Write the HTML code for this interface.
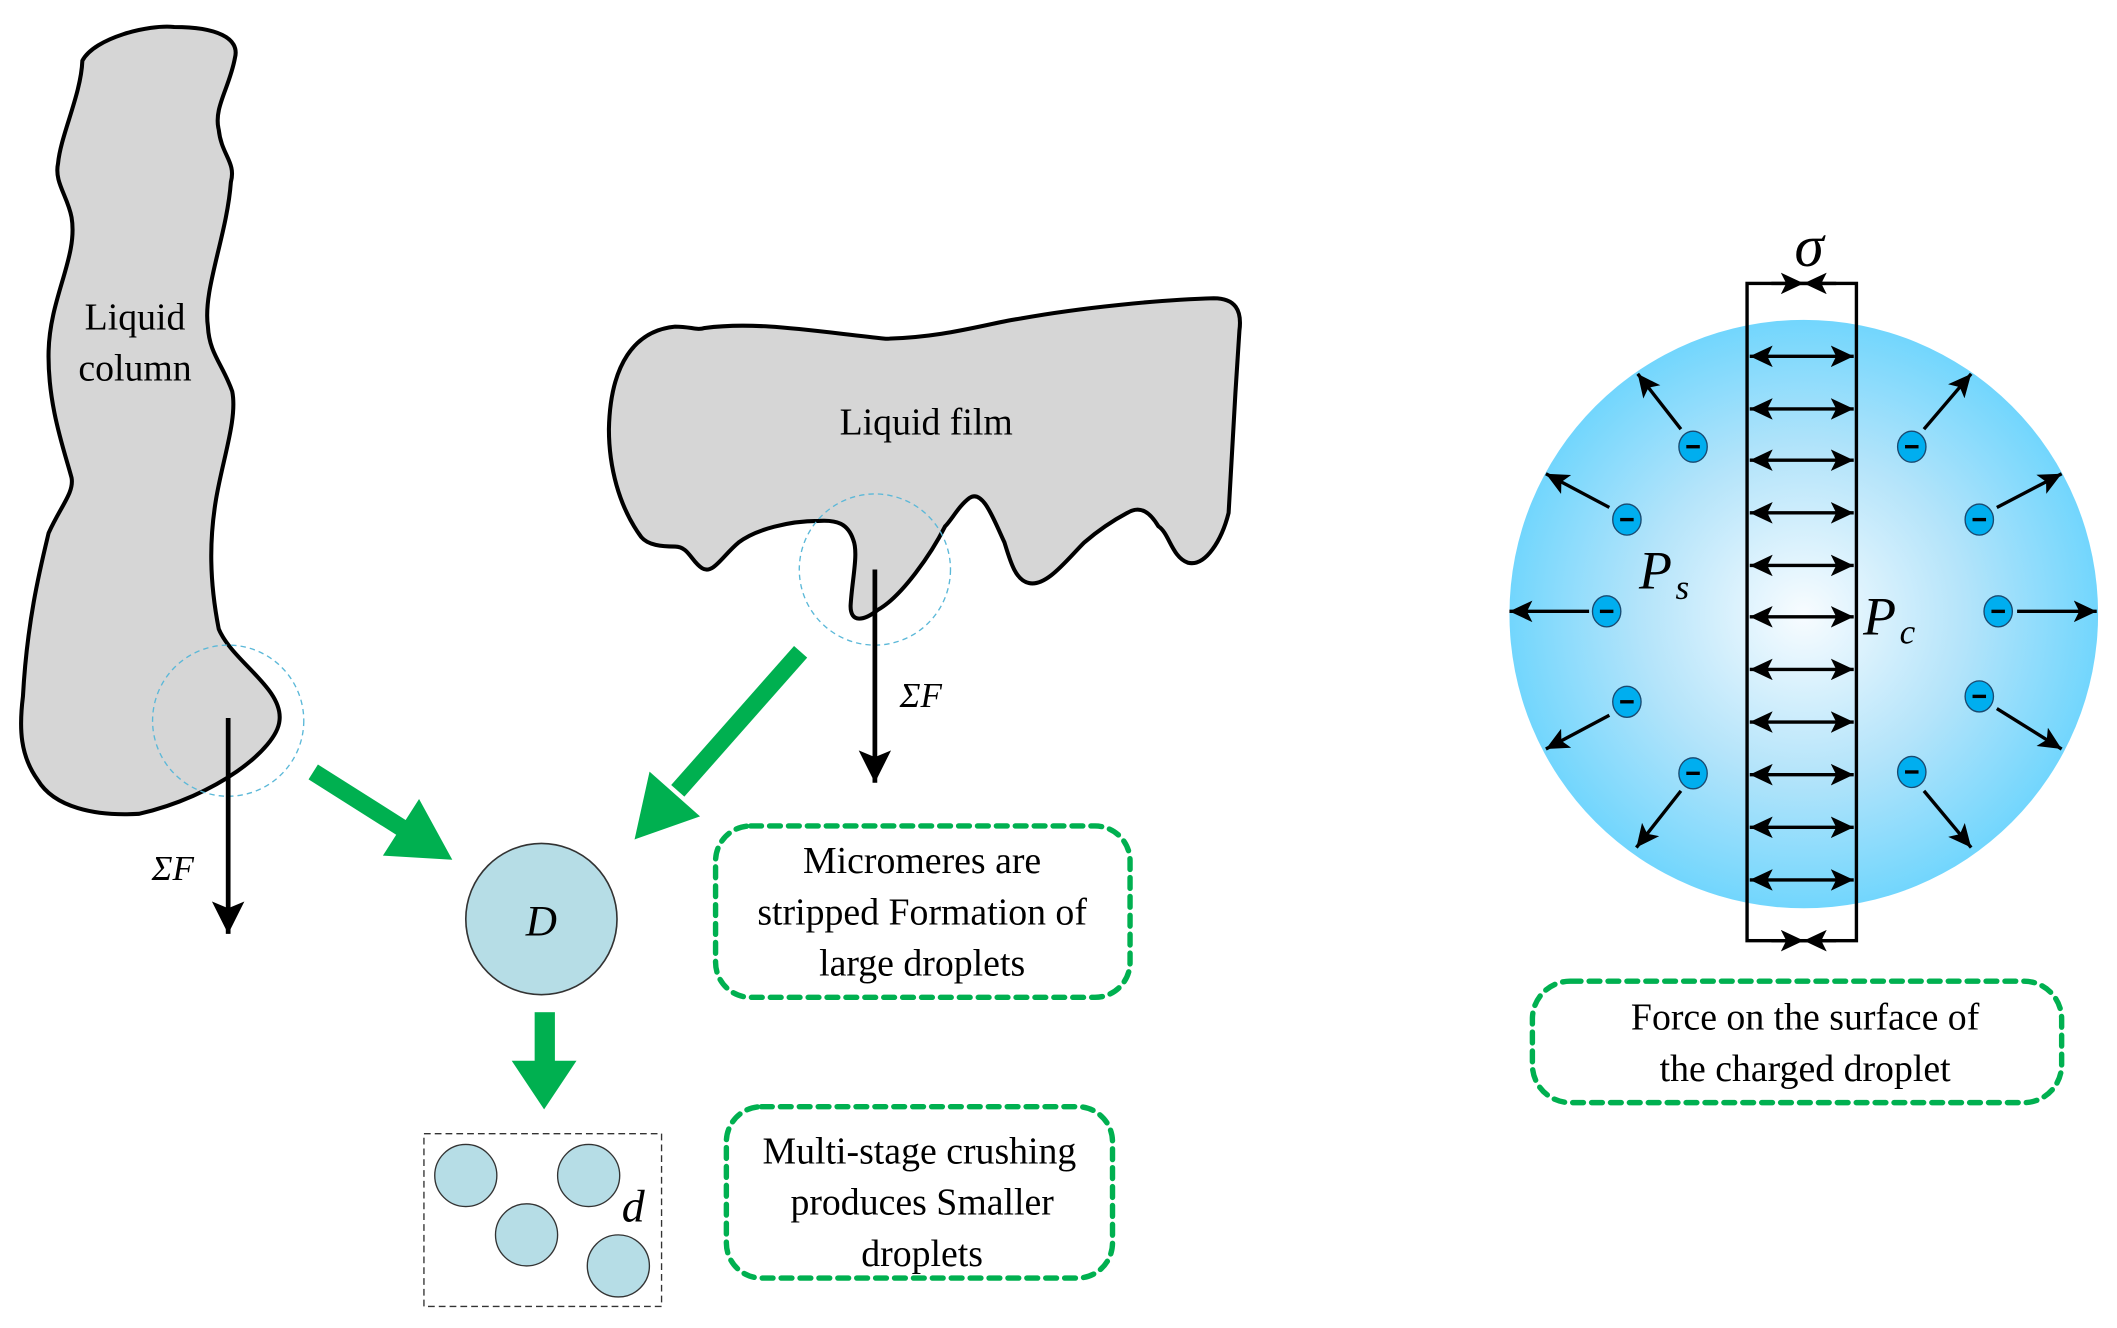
<!DOCTYPE html>
<html><head><meta charset="utf-8"><style>
html,body{margin:0;padding:0;background:#fff;}
svg{display:block;}
svg text{font-family:"Liberation Serif","Times New Roman",serif;fill:#000;}
</style></head><body>
<svg width="2117" height="1328" viewBox="0 0 1568 984" preserveAspectRatio="none" xmlns="http://www.w3.org/2000/svg" font-family="Liberation Serif, serif">
<defs>
<marker id="ah" markerUnits="userSpaceOnUse" markerWidth="26" markerHeight="24" refX="24" refY="12" orient="auto">
<path d="M0,0 L24,12 L0,24 L5,12 Z" fill="#000"/></marker>
<marker id="sh" markerUnits="userSpaceOnUse" markerWidth="18" markerHeight="16" refX="17" refY="8" orient="auto-start-reverse">
<path d="M0,0 L17,8 L0,16 L4,8 Z" fill="#000"/></marker>
<radialGradient id="rg" cx="0.5" cy="0.5" r="0.5">
<stop offset="0" stop-color="#f8fcff"/><stop offset="0.55" stop-color="#b4e4fa"/><stop offset="1" stop-color="#72d6fd"/></radialGradient>
</defs>

<path d="M61,45 C70,28 110,18 129,20 C160,20 178,28 174,43 C170,65 158,80 162,96 C164,115 175,120 171,135 C168,175 150,215 154,242 C155,262 165,270 172,290 C176,310 165,340 160,370 C155,400 155,430 162,466 C172,490 210,510 207,534 C205,555 160,590 103,603 C70,605 40,598 28,578 C15,560 14,540 17,516 C20,460 30,420 36,395 C45,375 55,365 53,354 C48,335 35,300 36,260 C37,220 58,190 53,161 C50,145 40,135 43,121 C45,100 60,70 61,45 Z" fill="#d6d6d6" stroke="#000" stroke-width="3"/>
<text x="100" y="244" font-size="28" text-anchor="middle" font-family="Liberation Serif, serif">Liquid</text>
<text x="100" y="282" font-size="28" text-anchor="middle" font-family="Liberation Serif, serif">column</text>
<circle cx="169" cy="534" r="56" fill="none" stroke="#5bb8d8" stroke-width="1" stroke-dasharray="4,3"/>
<line x1="169" y1="532" x2="169" y2="692" stroke="#000" stroke-width="3.5" marker-end="url(#ah)"/>
<text x="128" y="652" font-size="26" font-style="italic" text-anchor="middle" font-family="Liberation Serif, serif">ΣF</text>

<path d="M451,318 C452,270 470,245 500,242 C512,242 516,245 522,243 C560,238 600,245 656,251 C700,250 730,240 756,236 C800,228 860,222 899,221 C915,221 920,230 918,245 C915,290 912,340 910,380 C905,400 893,420 880,417 C868,413 866,395 858,390 C852,380 845,374 835,380 C820,388 810,396 803,402 C790,415 775,435 762,432 C752,430 748,415 744,402 C736,385 728,362 718,369 C710,375 705,385 700,390 C690,410 668,442 650,452 C640,460 630,462 630,449 C631,430 636,410 632,400 C628,388 620,385 606,386 C585,386 560,392 547,402 C535,412 528,426 520,421 C512,416 510,405 500,405 C490,405 480,404 475,398 C458,375 451,345 451,318 Z" fill="#d6d6d6" stroke="#000" stroke-width="3"/>
<text x="686" y="322" font-size="28" text-anchor="middle" font-family="Liberation Serif, serif">Liquid film</text>
<circle cx="648" cy="422" r="56" fill="none" stroke="#5bb8d8" stroke-width="1" stroke-dasharray="4,3"/>
<line x1="648" y1="422" x2="648" y2="580" stroke="#000" stroke-width="3.5" marker-end="url(#ah)"/>
<text x="682" y="524" font-size="26" font-style="italic" text-anchor="middle" font-family="Liberation Serif, serif">ΣF</text>

<g fill="#00b050" stroke="none">
<line x1="232" y1="572" x2="300" y2="615" stroke="#00b050" stroke-width="13"/>
<polygon points="335,637 283.6,634 310.4,592"/>
<line x1="593" y1="483" x2="502" y2="586" stroke="#00b050" stroke-width="13"/>
<polygon points="470,622 518.5,604.9 481.1,571.7"/>
<rect x="396" y="750" width="15" height="38"/>
<polygon points="403,822 379,786 427,786"/>
</g>

<circle cx="401" cy="681" r="56" fill="#b6dde6" stroke="#333" stroke-width="1.2"/>
<text x="401" y="693" font-size="32" font-style="italic" text-anchor="middle" font-family="Liberation Serif, serif">D</text>

<rect x="314" y="840" width="176" height="128" fill="none" stroke="#333" stroke-width="1" stroke-dasharray="5,3"/>
<g fill="#b6dde6" stroke="#333" stroke-width="1">
<ellipse cx="345" cy="871" rx="23" ry="23"/>
<ellipse cx="436" cy="871" rx="23" ry="23"/>
<ellipse cx="390" cy="915" rx="23" ry="23"/>
<ellipse cx="458" cy="938" rx="23" ry="23"/>
</g>
<text x="469" y="905" font-size="34" font-style="italic" text-anchor="middle" font-family="Liberation Serif, serif">d</text>

<g fill="none" stroke="#00b050" stroke-width="4" stroke-dasharray="8,6" stroke-linecap="round">
<rect x="530" y="612" width="307" height="127" rx="26"/>
<rect x="538" y="820" width="286" height="127" rx="26"/>
<rect x="1135" y="727" width="392" height="90" rx="28"/>
</g>
<g font-size="28" text-anchor="middle" font-family="Liberation Serif, serif">
<text x="683" y="647" font-family="Liberation Serif, serif">Micromeres are</text>
<text x="683" y="685" font-family="Liberation Serif, serif">stripped Formation of</text>
<text x="683" y="723" font-family="Liberation Serif, serif">large droplets</text>
<text x="681" y="862" font-family="Liberation Serif, serif">Multi-stage crushing</text>
<text x="683" y="900" font-family="Liberation Serif, serif">produces Smaller</text>
<text x="683" y="938" font-family="Liberation Serif, serif">droplets</text>
<text x="1337" y="763" font-family="Liberation Serif, serif">Force on the surface of</text>
<text x="1337" y="801" font-family="Liberation Serif, serif">the charged droplet</text>
</g>

<circle cx="1336" cy="455" r="218" fill="url(#rg)"/>
<rect x="1294" y="210" width="81" height="487" fill="none" stroke="#000" stroke-width="2.5"/>
<g stroke="#000" stroke-width="2.5">
<line x1="1296" y1="264" x2="1373" y2="264" marker-start="url(#sh)" marker-end="url(#sh)"/>
<line x1="1296" y1="303" x2="1373" y2="303" marker-start="url(#sh)" marker-end="url(#sh)"/>
<line x1="1296" y1="341" x2="1373" y2="341" marker-start="url(#sh)" marker-end="url(#sh)"/>
<line x1="1296" y1="380" x2="1373" y2="380" marker-start="url(#sh)" marker-end="url(#sh)"/>
<line x1="1296" y1="419" x2="1373" y2="419" marker-start="url(#sh)" marker-end="url(#sh)"/>
<line x1="1296" y1="457" x2="1373" y2="457" marker-start="url(#sh)" marker-end="url(#sh)"/>
<line x1="1296" y1="496" x2="1373" y2="496" marker-start="url(#sh)" marker-end="url(#sh)"/>
<line x1="1296" y1="535" x2="1373" y2="535" marker-start="url(#sh)" marker-end="url(#sh)"/>
<line x1="1296" y1="574" x2="1373" y2="574" marker-start="url(#sh)" marker-end="url(#sh)"/>
<line x1="1296" y1="613" x2="1373" y2="613" marker-start="url(#sh)" marker-end="url(#sh)"/>
<line x1="1296" y1="652" x2="1373" y2="652" marker-start="url(#sh)" marker-end="url(#sh)"/>
<line x1="1312" y1="210" x2="1336" y2="210" marker-end="url(#sh)"/>
<line x1="1360" y1="210" x2="1336" y2="210" marker-end="url(#sh)"/>
<line x1="1312" y1="697" x2="1336" y2="697" marker-end="url(#sh)"/>
<line x1="1360" y1="697" x2="1336" y2="697" marker-end="url(#sh)"/>
</g>
<text x="1340" y="197" font-size="44" font-style="italic" text-anchor="middle" font-family="Liberation Serif, serif">σ</text>
<text x="1214" y="436" font-size="40" font-style="italic" font-family="Liberation Serif, serif">P</text><text x="1241" y="444" font-size="26" font-style="italic" font-family="Liberation Serif, serif">s</text>
<text x="1380" y="470" font-size="40" font-style="italic" font-family="Liberation Serif, serif">P</text><text x="1407" y="477" font-size="26" font-style="italic" font-family="Liberation Serif, serif">c</text>

<g stroke="#000" stroke-width="2.5">
<line x1="1245" y1="318" x2="1213" y2="277" marker-end="url(#sh)"/>
<line x1="1192" y1="376" x2="1145" y2="351" marker-end="url(#sh)"/>
<line x1="1177" y1="453" x2="1118" y2="453" marker-end="url(#sh)"/>
<line x1="1192" y1="530" x2="1145" y2="555" marker-end="url(#sh)"/>
<line x1="1245" y1="586" x2="1212" y2="628" marker-end="url(#sh)"/>
<line x1="1425" y1="318" x2="1460" y2="277" marker-end="url(#sh)"/>
<line x1="1479" y1="376" x2="1527" y2="351" marker-end="url(#sh)"/>
<line x1="1494" y1="453" x2="1553" y2="453" marker-end="url(#sh)"/>
<line x1="1479" y1="525" x2="1527" y2="555" marker-end="url(#sh)"/>
<line x1="1425" y1="586" x2="1460" y2="628" marker-end="url(#sh)"/>
</g>
<g fill="#00aeef" stroke="#1a4a70" stroke-width="1">
<ellipse cx="1254" cy="331" rx="10.5" ry="11.5"/>
<ellipse cx="1205" cy="385" rx="10.5" ry="11.5"/>
<ellipse cx="1190" cy="453" rx="10.5" ry="11.5"/>
<ellipse cx="1205" cy="520" rx="10.5" ry="11.5"/>
<ellipse cx="1254" cy="573" rx="10.5" ry="11.5"/>
<ellipse cx="1416" cy="331" rx="10.5" ry="11.5"/>
<ellipse cx="1466" cy="385" rx="10.5" ry="11.5"/>
<ellipse cx="1480" cy="453" rx="10.5" ry="11.5"/>
<ellipse cx="1466" cy="516" rx="10.5" ry="11.5"/>
<ellipse cx="1416" cy="572" rx="10.5" ry="11.5"/>
</g>
<g stroke="#000" stroke-width="2.5">
<line x1="1249" y1="331" x2="1259" y2="331"/>
<line x1="1200" y1="385" x2="1210" y2="385"/>
<line x1="1185" y1="453" x2="1195" y2="453"/>
<line x1="1200" y1="520" x2="1210" y2="520"/>
<line x1="1249" y1="573" x2="1259" y2="573"/>
<line x1="1411" y1="331" x2="1421" y2="331"/>
<line x1="1461" y1="385" x2="1471" y2="385"/>
<line x1="1475" y1="453" x2="1485" y2="453"/>
<line x1="1461" y1="516" x2="1471" y2="516"/>
<line x1="1411" y1="572" x2="1421" y2="572"/>
</g>
</svg>
</body></html>
